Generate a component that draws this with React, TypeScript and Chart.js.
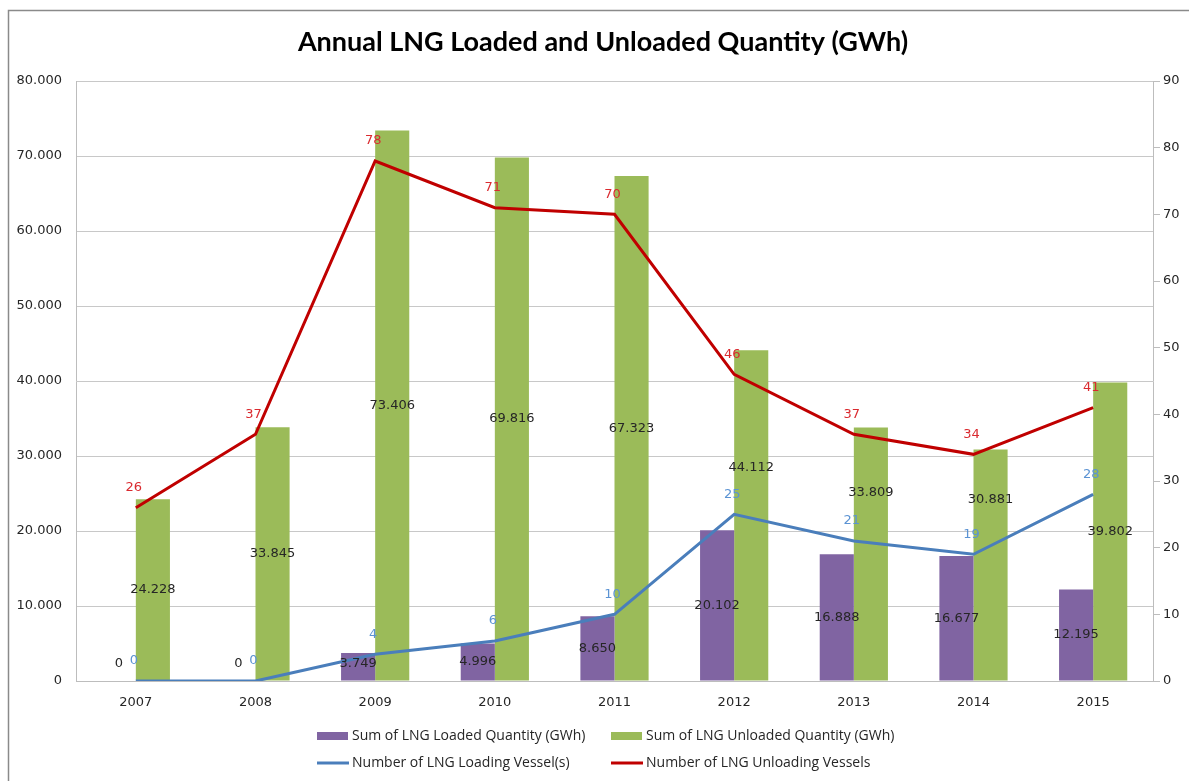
import React, { useEffect, useRef } from "react";
import { Chart, registerables } from "chart.js";

Chart.register(...registerables);

// ---------- data ----------
const years = ["2007", "2008", "2009", "2010", "2011", "2012", "2013", "2014", "2015"];
const loadedQuantity = [0, 0, 3749, 4996, 8650, 20102, 16888, 16677, 12195];
const unloadedQuantity = [24228, 33845, 73406, 69816, 67323, 44112, 33809, 30881, 39802];
const loadingVessels = [0, 0, 4, 6, 10, 25, 21, 19, 28];
const unloadingVessels = [26, 37, 78, 71, 70, 46, 37, 34, 41];

const quantityMin = 0;
const quantityMax = 80000;
const quantityStep = 10000;
const vesselMin = 0;
const vesselMax = 90;
const vesselStep = 10;

const chartTitle = "Annual LNG Loaded and Unloaded Quantity (GWh)";
const seriesNames = [
  "Sum of LNG Loaded Quantity (GWh)",
  "Sum of LNG Unloaded Quantity (GWh)",
  "Number of LNG Loading Vessel(s)",
  "Number of LNG Unloading Vessels",
];

// ---------- style ----------
const PURPLE = "#8064A2";
const GREEN = "#9BBB59";
const BLUE = "#4A7EBB";
const RED = "#C00000";
const BLUE_LABEL = "#5B93D3";
const RED_LABEL = "#DA2A2F";
const GRID = "#C8C8C8";
const AXIS = "#BDBDBD";
const TEXT = "#262626";
const TICK_FONT = "DejaVu Sans";
const LEGEND_FONT = "Open Sans";
// manual vertical nudges of some data labels (pixels), as in the original
const unloadedLabelNudge = [0, 0, 0, 0, 0, -48, -61, -65, 0];

function fmtThousands(v: number): string {
  const s = String(Math.round(v));
  return s.replace(/\B(?=(\d{3})+(?!\d))/g, ".");
}

const framePlugin = {
  id: "frame",
  beforeDraw(chart: any) {
    const ctx = chart.ctx;
    ctx.save();
    ctx.fillStyle = "#ffffff";
    ctx.fillRect(0, 0, chart.width, chart.height);
    ctx.strokeStyle = "#8a8a8a";
    ctx.lineWidth = 1.5;
    ctx.strokeRect(8.5, 10.5, chart.width + 20, chart.height + 20);
    ctx.restore();
  },
};

const valueLabelPlugin = {
  id: "valueLabels",
  afterDatasetsDraw(chart: any) {
    const ctx = chart.ctx;
    ctx.save();
    ctx.textAlign = "center";
    ctx.textBaseline = "middle";
    ctx.font = `13px "${TICK_FONT}"`;
    chart.data.datasets.forEach((ds: any, i: number) => {
      const meta = chart.getDatasetMeta(i);
      if (meta.hidden) return;
      meta.data.forEach((el: any, j: number) => {
        const v = ds.data[j];
        if (meta.type === "bar") {
          const p = el.getProps(["x", "y", "base"], true);
          let ly = (p.y + p.base) / 2;
          ly = Math.min(ly, p.base - 17);
          if (ds.labelNudge) ly += ds.labelNudge[j] || 0;
          ctx.fillStyle = TEXT;
          ctx.fillText(fmtThousands(v), p.x, ly);
        } else {
          ctx.fillStyle = ds.labelColor;
          ctx.fillText(String(v), el.x - 2, el.y - 20);
        }
      });
    });
    ctx.restore();
  },
};

const legendPlugin = {
  id: "customLegend",
  afterDraw(chart: any) {
    const ctx = chart.ctx;
    const cols = [317, 611];
    const rows = [736, 763];
    ctx.save();
    ctx.font = `14px "${LEGEND_FONT}"`;
    ctx.textBaseline = "middle";
    ctx.textAlign = "left";
    chart.data.datasets.forEach((ds: any, i: number) => {
      const x = cols[i % 2];
      const y = rows[Math.floor(i / 2)];
      if (ds.type === "bar") {
        ctx.fillStyle = ds.backgroundColor;
        ctx.fillRect(x, y - 4, 31, 8);
      } else {
        ctx.strokeStyle = ds.borderColor;
        ctx.lineWidth = 3;
        ctx.beginPath();
        ctx.moveTo(x, y);
        ctx.lineTo(x + 32, y);
        ctx.stroke();
      }
      ctx.fillStyle = TEXT;
      ctx.fillText(ds.label, x + 35, y);
    });
    ctx.restore();
  },
};

export default function App() {
  const canvasRef = useRef<HTMLCanvasElement | null>(null);

  useEffect(() => {
    document.body.style.margin = "0";
    const canvas = canvasRef.current;
    if (!canvas) return;
    const chart = new Chart(canvas, {
      type: "bar",
      data: {
        labels: years,
        datasets: [
          {
            type: "bar",
            label: seriesNames[0],
            data: loadedQuantity,
            backgroundColor: PURPLE,
            borderWidth: 0,
            yAxisID: "y",
            order: 2,
            barPercentage: 1,
            categoryPercentage: 0.57,
          } as any,
          {
            type: "bar",
            label: seriesNames[1],
            data: unloadedQuantity,
            backgroundColor: GREEN,
            borderWidth: 0,
            yAxisID: "y",
            order: 2,
            barPercentage: 1,
            categoryPercentage: 0.57,
            labelNudge: unloadedLabelNudge,
          } as any,
          {
            type: "line",
            label: seriesNames[2],
            data: loadingVessels,
            borderColor: BLUE,
            backgroundColor: BLUE,
            borderWidth: 3,
            pointRadius: 0,
            tension: 0,
            yAxisID: "y1",
            order: 0,
            labelColor: BLUE_LABEL,
          } as any,
          {
            type: "line",
            label: seriesNames[3],
            data: unloadingVessels,
            borderColor: RED,
            backgroundColor: RED,
            borderWidth: 3,
            pointRadius: 0,
            tension: 0,
            yAxisID: "y1",
            order: 0,
            labelColor: RED_LABEL,
          } as any,
        ],
      },
      options: {
        responsive: false,
        animation: false,
        layout: { padding: { left: 17, right: 0, top: 0, bottom: 60 } },
        plugins: {
          legend: { display: false },
          tooltip: { enabled: false },
          title: {
            display: true,
            text: chartTitle,
            color: "#000000",
            font: { family: "Lato", weight: "bold", size: 27, lineHeight: 1.2 },
            padding: { top: 26, bottom: 22.6 },
          },
        },
        scales: {
          x: {
            grid: { display: false, drawTicks: false },
            border: { display: true, color: AXIS, width: 1 },
            ticks: {
              color: TEXT,
              padding: 14,
              font: { family: TICK_FONT, size: 13 },
            },
            afterFit: (s: any) => {
              s.height = 40;
            },
          },
          y: {
            position: "left",
            min: quantityMin,
            max: quantityMax,
            grid: { color: GRID, lineWidth: 1, drawTicks: false },
            border: { display: true, color: AXIS, width: 1 },
            ticks: {
              stepSize: quantityStep,
              color: TEXT,
              padding: 14,
              font: { family: TICK_FONT, size: 13 },
              callback: (v: any) => fmtThousands(Number(v)),
            },
            afterFit: (s: any) => {
              s.width = 59;
            },
          },
          y1: {
            position: "right",
            min: vesselMin,
            max: vesselMax,
            grid: { drawOnChartArea: false, drawTicks: true, tickLength: 7, color: AXIS },
            border: { display: true, color: AXIS, width: 1 },
            ticks: {
              stepSize: vesselStep,
              color: TEXT,
              padding: 3,
              font: { family: TICK_FONT, size: 13 },
            },
            afterFit: (s: any) => {
              s.width = 36;
            },
          },
        },
      } as any,
      plugins: [framePlugin, valueLabelPlugin, legendPlugin],
    });
    return () => chart.destroy();
  }, []);

  return (
    <div style={{ position: "absolute", left: 0, top: 0, width: 1189, height: 781 }}>
      <canvas ref={canvasRef} width={1189} height={781} />
    </div>
  );
}
